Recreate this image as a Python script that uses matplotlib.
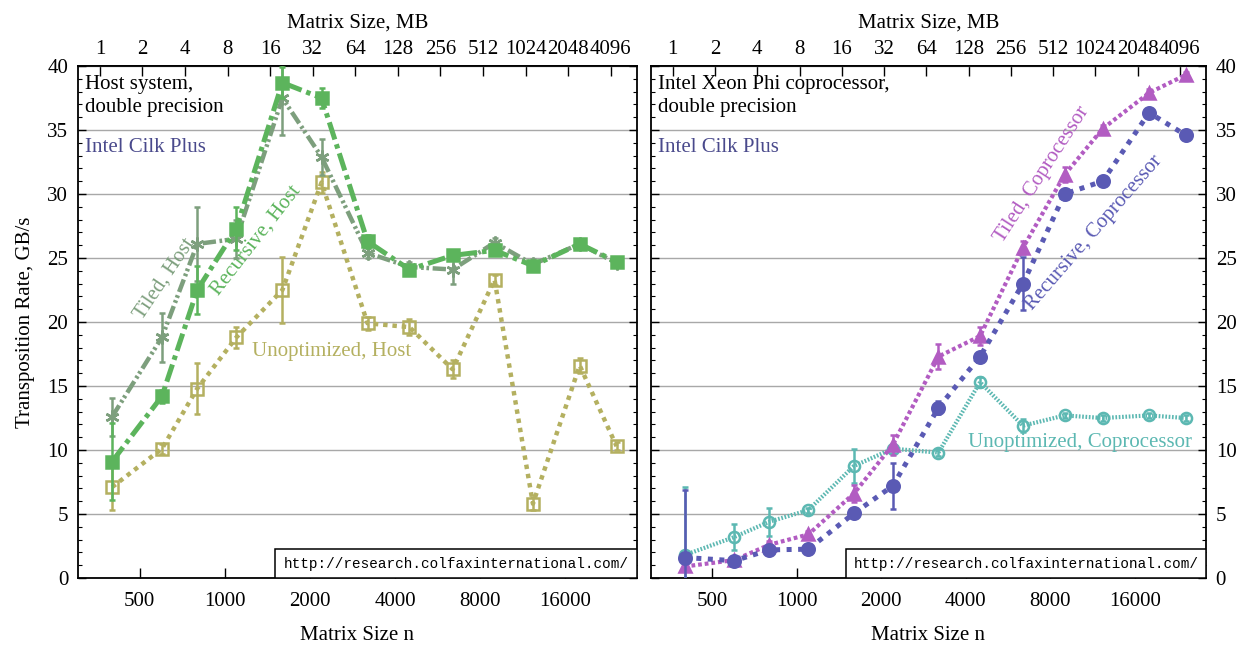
import numpy as np
import matplotlib
matplotlib.use('Agg')
import matplotlib.pyplot as plt
from matplotlib.patches import Rectangle
from matplotlib.ticker import MultipleLocator, NullLocator

plt.rcParams['font.family'] = ['Liberation Serif', 'DejaVu Serif']
plt.rcParams['font.size'] = 15

# ---------------- data ----------------
n_sizes = [400, 600, 800, 1100, 1600, 2200, 3200, 4500, 6400, 9000, 12300, 18000, 24300]

mb_ticks = [1, 2, 4, 8, 16, 32, 64, 128, 256, 512, 1024, 2048, 4096]
n_ticks = [500, 1000, 2000, 4000, 8000, 16000]
y_ticks = [0, 5, 10, 15, 20, 25, 30, 35, 40]

tiled_host = [12.6, 18.8, 26.1, 26.5, 37.5, 32.9, 25.4, 24.3, 24.1, 26.2, 24.5, 26.1, 24.6]
tiled_host_err = [1.5, 1.9, 2.9, 1.5, 2.9, 1.4, 0.4, 0.4, 1.1, 0.4, 0.4, 0.3, 0.3]
recursive_host = [9.1, 14.2, 22.5, 27.3, 38.7, 37.5, 26.3, 24.1, 25.2, 25.6, 24.4, 26.1, 24.7]
recursive_host_err = [3.0, 0.5, 1.9, 1.7, 1.2, 0.8, 0.5, 0.3, 0.3, 0.4, 0.3, 0.3, 0.3]
unopt_host = [7.1, 10.1, 14.8, 18.8, 22.5, 30.9, 19.9, 19.6, 16.3, 23.3, 5.8, 16.6, 10.3]
unopt_host_err = [1.8, 0.4, 2.0, 0.8, 2.6, 0.8, 0.5, 0.6, 0.7, 0.4, 0.5, 0.6, 0.3]

tiled_cop = [0.9, 1.4, 2.6, 3.4, 6.6, 10.4, 17.3, 18.9, 25.8, 31.5, 35.1, 37.9, 39.3]
tiled_cop_err = [0.3, 0.3, 0.3, 0.3, 0.7, 0.8, 1.0, 0.7, 0.5, 0.6, 0.3, 0.3, 0.2]
recursive_cop = [1.6, 1.35, 2.2, 2.25, 5.05, 7.2, 13.3, 17.3, 23.0, 30.0, 31.0, 36.35, 34.6]
recursive_cop_err = [5.3, 0.2, 0.2, 0.2, 0.3, 1.8, 0.5, 0.3, 2.05, 0.2, 0.2, 0.2, 0.2]
unopt_cop = [1.8, 3.2, 4.4, 5.3, 8.75, 10.1, 9.8, 15.3, 11.9, 12.7, 12.5, 12.7, 12.5]
unopt_cop_err = [5.3, 1.0, 1.1, 0.2, 1.3, 0.3, 0.3, 0.4, 0.5, 0.2, 0.2, 0.2, 0.2]

# ---------------- style ----------------
C_TILED_H = '#7d9f7d'
C_REC_H = '#5cb45c'
C_UNOPT_H = '#b4b060'
C_TILED_C = '#b25cc2'
C_REC_C = '#5a5ab4'
C_UNOPT_C = '#5cb8b2'
C_CILK = '#4a4a8c'
URL = 'http://research.colfaxinternational.com/'

W, H = 1247, 646
fig = plt.figure(figsize=(W / 100, H / 100), dpi=100)
axL = fig.add_axes([78 / W, 68 / H, 559 / W, 512 / H])
axR = fig.add_axes([651 / W, 68 / H, 555 / W, 512 / H])

mb_pos = [np.sqrt(m * 2 ** 20 / 8) for m in mb_ticks]


def setup(ax, right):
    ax.set_xscale('log')
    ax.set_xlim(303, 28700)
    ax.set_ylim(0, 40)
    ax.set_xticks(n_ticks, [str(t) for t in n_ticks])
    ax.xaxis.set_minor_locator(NullLocator())
    ax.tick_params(axis='x', direction='in', length=7, width=1, top=False, pad=10)
    ax.set_yticks(y_ticks)
    ax.yaxis.set_minor_locator(MultipleLocator(1))
    ax.tick_params(axis='y', which='both', direction='in', left=True, right=True,
                   labelleft=not right, labelright=right, pad=7)
    ax.tick_params(axis='y', which='major', length=6, width=1)
    ax.tick_params(axis='y', which='minor', length=3, width=0.8)
    ax.grid(axis='y', color='#a8a8a8', lw=1.0)
    ax.set_axisbelow(True)
    for s in ax.spines.values():
        s.set_linewidth(1.3)
    sec = ax.secondary_xaxis('top')
    sec.set_xticks(mb_pos, [str(m) for m in mb_ticks])
    sec.xaxis.set_minor_locator(NullLocator())
    sec.tick_params(direction='in', length=7, width=1, pad=5)
    sec.spines['top'].set_linewidth(1.3)
    sec.set_xlabel('Matrix Size, MB', labelpad=9)
    ax.set_xlabel('Matrix Size n', labelpad=11)
    ax.add_patch(Rectangle((0.352, 0.0), 0.648, 0.057, transform=ax.transAxes,
                           facecolor='white', edgecolor='black', lw=1.1, zorder=20))
    ax.text(0.676, 0.028, URL, transform=ax.transAxes, ha='center', va='center',
            family=['Liberation Mono', 'DejaVu Sans Mono'], fontsize=10.4, zorder=21)


def series(ax, y, err, color, dashes, lw, marker, ms, filled, z):
    ax.errorbar(n_sizes, y, yerr=err, color=color, lw=lw, dashes=dashes,
                marker=marker, ms=ms, mfc=color if filled else 'none', mec=color,
                mew=1.8, ecolor=color, elinewidth=1.8, capsize=2.5, capthick=1.8,
                zorder=z)


setup(axL, False)
setup(axR, True)
axL.set_ylabel('Transposition Rate, GB/s', labelpad=9)

series(axL, unopt_host, unopt_host_err, C_UNOPT_H, (1.0, 1.1), 3.2, 's', 8.5, False, 3)
series(axL, tiled_host, tiled_host_err, C_TILED_H, (3.0, 0.8, 0.6, 0.6, 0.6, 0.8), 3.2,
       (6, 2, 0), 10, True, 4)
series(axL, recursive_host, recursive_host_err, C_REC_H, (3.6, 1.0, 0.9, 1.0), 3.6, 's', 9, True, 5)

series(axR, unopt_cop, unopt_cop_err, C_UNOPT_C, (0.4, 0.4), 3.0, 'o', 8, False, 3)
series(axR, tiled_cop, tiled_cop_err, C_TILED_C, (0.9, 0.7), 3.0, '^', 9, True, 4)
series(axR, recursive_cop, recursive_cop_err, C_REC_C, (1.0, 1.3), 3.6, 'o', 9, True, 5)

# annotations
axL.text(0.013, 0.982, 'Host system,\ndouble precision', transform=axL.transAxes,
         ha='left', va='top', linespacing=1.3)
axL.text(0.013, 0.84, 'Intel Cilk Plus', transform=axL.transAxes, ha='left',
         va='center', color=C_CILK)
axR.text(0.013, 0.982, 'Intel Xeon Phi coprocessor,\ndouble precision',
         transform=axR.transAxes, ha='left', va='top', linespacing=1.3)
axR.text(0.013, 0.84, 'Intel Cilk Plus', transform=axR.transAxes, ha='left',
         va='center', color=C_CILK)

axL.text(615, 23.4, 'Tiled, Host', color=C_TILED_H, rotation=56,
         ha='center', va='center', rotation_mode='anchor')
axL.text(1290, 26.4, 'Recursive, Host', color=C_REC_H, rotation=52,
         ha='center', va='center', rotation_mode='anchor')
axL.text(1254, 17.66, 'Unoptimized, Host', color=C_UNOPT_H, ha='left', va='center')

axR.text(7500, 31.5, 'Tiled, Coprocessor', color=C_TILED_C, rotation=57,
         ha='center', va='center', rotation_mode='anchor')
axR.text(11496, 27.0, 'Recursive, Coprocessor', color=C_REC_C, rotation=49,
         ha='center', va='center', rotation_mode='anchor')
axR.text(4070, 10.57, 'Unoptimized, Coprocessor', color=C_UNOPT_C, ha='left', va='center')

fig.savefig('out.png', dpi=100)
